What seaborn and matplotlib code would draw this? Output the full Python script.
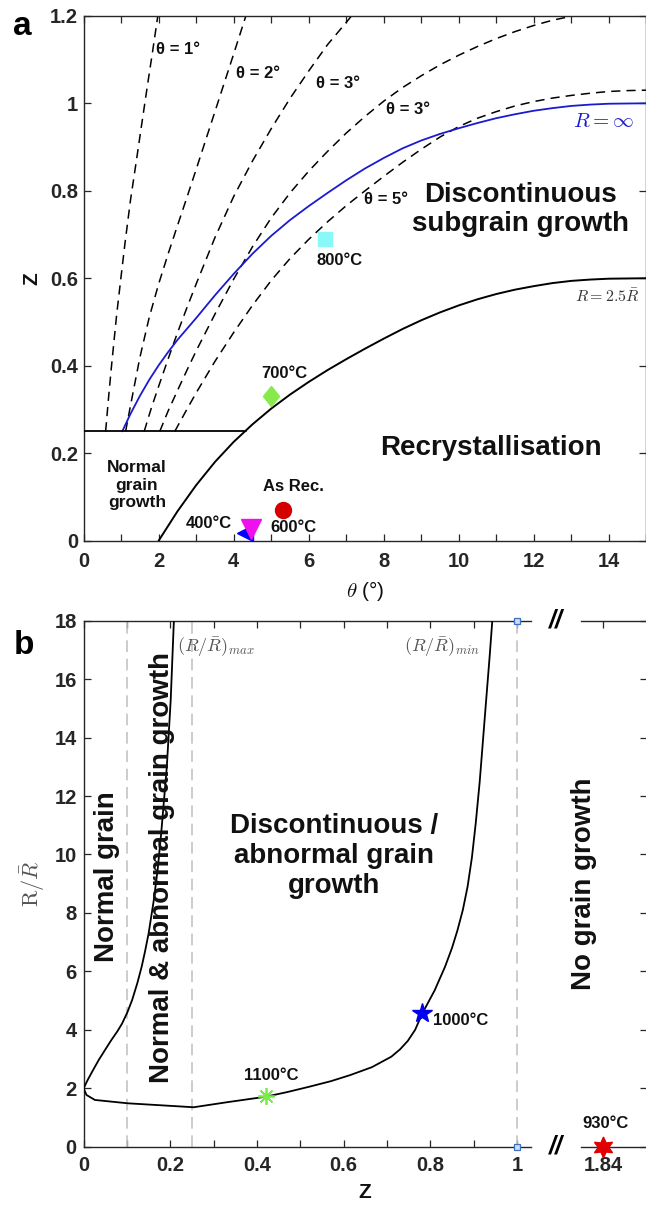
import matplotlib
matplotlib.use("Agg")
import matplotlib.pyplot as plt
import numpy as np
import seaborn as sns

# ================= DATA : panel a =================
# R = 2.5 Rbar boundary (solid black)
theta_r25 = [2.0, 2.5, 3.0, 3.5, 4.0, 4.5, 5.0, 5.5, 6.0, 6.5, 7.0, 7.5, 8.0, 8.5,
             9.0, 9.5, 10.0, 10.5, 11.0, 11.5, 12.0, 12.5, 13.0, 13.5, 14.0, 15.0]
z_r25 = [0.000, 0.067, 0.127, 0.180, 0.226, 0.266, 0.302, 0.334, 0.363, 0.390,
         0.415, 0.439, 0.462, 0.484, 0.504, 0.522, 0.538, 0.552, 0.564, 0.574,
         0.582, 0.589, 0.594, 0.597, 0.599, 0.600]

# R = infinity (blue)
theta_rinf = [1.03, 1.25, 1.5, 1.75, 2.0, 2.25, 2.5, 2.75, 3.0, 3.5, 4.0, 4.5,
              5.0, 5.5, 6.0, 6.5, 7.0, 7.5, 8.0, 8.5, 9.0, 9.5, 10.0, 10.5,
              11.0, 11.5, 12.0, 12.5, 13.0, 13.5, 14.0, 15.0]
z_rinf = [0.250, 0.290, 0.331, 0.368, 0.401, 0.431, 0.459, 0.484, 0.509, 0.561,
          0.610, 0.656, 0.697, 0.733, 0.765, 0.795, 0.824, 0.851, 0.875, 0.897,
          0.915, 0.930, 0.943, 0.955, 0.966, 0.975, 0.983, 0.989, 0.994, 0.997,
          0.999, 1.000]

# dashed iso-misorientation curves
theta_c1 = [0.587, 0.67, 0.75, 0.88, 1.0, 1.1, 1.25, 1.4, 1.55, 1.7, 1.85, 2.0]
z_c1 = [0.250, 0.332, 0.405, 0.516, 0.605, 0.678, 0.779, 0.865, 0.953, 1.040,
        1.125, 1.213]

theta_c2 = [1.12, 1.25, 1.5, 1.75, 2.0, 2.25, 2.5, 2.75, 3.0, 3.25, 3.5, 3.75,
            4.0, 4.25, 4.4]
z_c2 = [0.250, 0.309, 0.419, 0.511, 0.587, 0.655, 0.720, 0.784, 0.849, 0.915,
        0.981, 1.047, 1.113, 1.180, 1.220]

theta_c3 = [1.615, 1.8, 2.0, 2.25, 2.5, 2.75, 3.0, 3.5, 4.0, 4.5, 5.0, 5.5, 6.0,
            6.5, 7.0, 7.5]
z_c3 = [0.250, 0.302, 0.353, 0.415, 0.475, 0.532, 0.587, 0.693, 0.787, 0.868,
        0.942, 1.011, 1.074, 1.134, 1.185, 1.238]

theta_c4 = [2.03, 2.25, 2.5, 2.75, 3.0, 3.5, 4.0, 4.5, 5.0, 5.5, 6.0, 6.5, 7.0,
            7.5, 8.0, 8.5, 9.0, 9.5, 10.0, 10.5, 11.0, 11.5, 12.0, 12.5, 13.0,
            13.5, 14.0]
z_c4 = [0.250, 0.296, 0.343, 0.389, 0.434, 0.518, 0.598, 0.672, 0.738, 0.795,
        0.845, 0.890, 0.932, 0.970, 1.005, 1.036, 1.063, 1.088, 1.110, 1.130,
        1.148, 1.164, 1.178, 1.190, 1.199, 1.207, 1.213]

theta_c5 = [2.43, 2.75, 3.0, 3.5, 4.0, 4.5, 5.0, 5.5, 6.0, 6.5, 7.0, 7.5, 8.0,
            8.5, 9.0, 9.5, 10.0, 10.5, 11.0, 11.5, 12.0, 12.5, 13.0, 13.5, 14.0,
            14.5, 15.0]
z_c5 = [0.250, 0.300, 0.338, 0.410, 0.476, 0.538, 0.595, 0.645, 0.689, 0.729,
        0.766, 0.800, 0.833, 0.865, 0.895, 0.923, 0.947, 0.966, 0.981, 0.994,
        1.004, 1.012, 1.018, 1.023, 1.027, 1.029, 1.030]

curve_labels = ["θ = 1°", "θ = 2°", "θ = 3°", "θ = 3°", "θ = 5°"]

# normal-grain-growth boundary
theta_ngg = [0.0, 4.34]
z_ngg = [0.25, 0.25]

# experimental points (panel a)
pt_a_labels = ["400°C", "600°C", "As Rec.", "700°C", "800°C"]
pt_a_theta = [4.31, 4.47, 5.31, 5.0, 6.42]
pt_a_z = [0.018, 0.027, 0.070, 0.331, 0.690]

# ================= DATA : panel b =================
z_rmax = [0.0, 0.010, 0.021, 0.035, 0.049, 0.064, 0.078, 0.089, 0.101, 0.112,
          0.124, 0.134, 0.142, 0.150, 0.162, 0.171, 0.179, 0.192, 0.201, 0.2083]
r_rmax = [2.0, 2.3, 2.6, 2.97, 3.3, 3.65, 3.95, 4.22, 4.6, 5.02, 5.6, 6.16, 6.7,
          7.3, 8.44, 9.5, 10.72, 13.0, 15.29, 18.0]

z_rmin = [0.0, 0.0067, 0.026, 0.102, 0.254, 0.33, 0.42, 0.47, 0.52, 0.57, 0.615,
          0.665, 0.71, 0.73, 0.748, 0.765, 0.7815, 0.81, 0.834, 0.85, 0.8625,
          0.875, 0.886, 0.896, 0.905, 0.914, 0.922, 0.93, 0.937, 0.943]
r_rmin = [2.0, 1.77, 1.60, 1.485, 1.35, 1.52, 1.71, 1.87, 2.05, 2.24, 2.45,
          2.72, 3.08, 3.33, 3.62, 4.0, 4.56, 5.35, 6.16, 6.8, 7.4, 8.1, 8.9,
          9.9, 11.1, 12.5, 14.0, 15.5, 16.8, 18.0]

z_bounds = [0.1, 0.25, 1.0]
z_limit_pts = [1.0, 1.0]
r_limit_pts = [0.0, 18.0]

pt_b_labels = ["1100°C", "1000°C", "930°C"]
pt_b_z = [0.42, 0.7815, 1.84]
pt_b_r = [1.72, 4.56, 0.0]

# ================= STYLE =================
sns.set_theme(style="ticks")
plt.rcParams.update({
    "font.family": ["Liberation Sans", "DejaVu Sans"],
    "mathtext.fontset": "cm",
    "axes.edgecolor": "#262626",
    "axes.linewidth": 1.0,
    "xtick.color": "#262626",
    "ytick.color": "#262626",
    "xtick.direction": "in",
    "ytick.direction": "in",
    "xtick.major.size": 5,
    "ytick.major.size": 5,
    "xtick.major.width": 0.9,
    "ytick.major.width": 0.9,
    "xtick.labelsize": 14.5,
    "ytick.labelsize": 14.5,
})

W, H = 646, 1208
fig = plt.figure(figsize=(W / 100, H / 100), dpi=100)


def rect(x0, x1, y0, y1):
    return [x0 / W, 1 - y1 / H, (x1 - x0) / W, (y1 - y0) / H]


def fx(px):
    return px / W


def fy(py):
    return 1 - py / H


def curve(ax, x, y, color, lw, ls="-", z=2):
    sns.lineplot(x=np.asarray(x, float), y=np.asarray(y, float), ax=ax,
                 color=color, lw=lw, linestyle=ls, sort=False, estimator=None,
                 legend=False, zorder=z)


def bold_ticks(ax):
    for t in ax.get_xticklabels() + ax.get_yticklabels():
        t.set_fontweight("bold")


TXT = "#111111"

# ================= PANEL a =================
axA = fig.add_axes(rect(83.6, 646.5, 15.8, 540.7))
dash = (0, (6, 4))
for tx, tz in [(theta_c1, z_c1), (theta_c2, z_c2), (theta_c3, z_c3),
               (theta_c4, z_c4), (theta_c5, z_c5)]:
    curve(axA, tx, tz, "black", 1.1, dash, 2)
curve(axA, theta_rinf, z_rinf, "#1a1ad0", 1.3, "-", 3)
curve(axA, theta_r25, z_r25, "black", 1.4, "-", 3)
curve(axA, theta_ngg, z_ngg, "black", 1.3, "-", 3)

mk = dict(ls="none", zorder=5)
axA.plot(pt_a_theta[0], pt_a_z[0], marker="<", ms=12, color="#0000ff", mec="#0000ff", **mk)
axA.plot(pt_a_theta[1], pt_a_z[1], marker="v", ms=14, color="#ee11ee", mec="#ee11ee", **mk)
axA.plot(pt_a_theta[2], pt_a_z[2], marker="o", ms=11.5, color="#d40000", mec="#d40000", **mk)
diamond = [(0, 1), (0.8, 0), (0, -1), (-0.8, 0), (0, 1)]
axA.plot(pt_a_theta[3], pt_a_z[3], marker=diamond, ms=14.5, color="#88ea4a", mec="#88ea4a", **mk)
axA.plot(pt_a_theta[4], pt_a_z[4], marker="s", ms=9.6, color="#88f8f8", mec="#88f8f8", **mk)

axA.set_xlim(0, 15)
axA.set_ylim(0, 1.2)
axA.set_xticks(range(0, 16))
axA.set_xticklabels([str(v) if v % 2 == 0 else "" for v in range(0, 16)])
axA.set_yticks([0, 0.2, 0.4, 0.6, 0.8, 1.0, 1.2])
axA.set_yticklabels(["0", "0.2", "0.4", "0.6", "0.8", "1", "1.2"])
axA.tick_params(top=True, right=True)
axA.tick_params(axis="x", pad=8)
axA.tick_params(axis="y", pad=4)
bold_ticks(axA)

lab = dict(fontsize=12, fontweight="bold", color=TXT, va="center")
axA.text(1.93, 1.123, curve_labels[0], ha="left", **lab)
axA.text(4.07, 1.069, curve_labels[1], ha="left", **lab)
axA.text(6.2, 1.046, curve_labels[2], ha="left", **lab)
axA.text(8.06, 0.985, curve_labels[3], ha="left", **lab)
axA.text(7.48, 0.779, curve_labels[4], ha="left", **lab)

axA.text(11.65, 0.758, "Discontinuous\nsubgrain growth", ha="center", va="center",
         fontsize=20, fontweight="bold", color=TXT, linespacing=1.15)
axA.text(10.86, 0.211, "Recrystallisation", ha="center", va="center",
         fontsize=20, fontweight="bold", color=TXT)
axA.text(1.42, 0.127, "Normal\ngrain\ngrowth", ha="center", va="center",
         fontsize=12.5, fontweight="bold", color=TXT, linespacing=1.2)
axA.text(13.85, 0.958, r"$R = \infty$", ha="center", va="center",
         fontsize=15, color="#1a1ad0")
axA.text(13.95, 0.559, r"$R = 2.5\bar{R}$", ha="center", va="center",
         fontsize=11.5, color="#333333")

tl = dict(fontsize=12, fontweight="bold", color=TXT, ha="center", va="center", zorder=6)
axA.text(3.34, 0.040, pt_a_labels[0], **tl)
axA.text(5.60, 0.031, pt_a_labels[1], **tl)
axA.text(5.58, 0.1235, pt_a_labels[2], **tl)
axA.text(5.36, 0.383, pt_a_labels[3], **tl)
axA.text(6.83, 0.640, pt_a_labels[4], **tl)

fig.text(fx(365.6), fy(590.7), r"$\theta$ (°)", ha="center", va="center",
         fontsize=15, color=TXT)
fig.text(fx(32), fy(278.5), "Z", ha="center", va="center", rotation=90,
         fontsize=15, fontweight="bold", color=TXT)
fig.text(fx(22.7), fy(26.7), "a", ha="center", va="center", fontsize=24,
         fontweight="bold", color="black")

# ================= PANEL b =================
scale_b = 433.4
axB1 = fig.add_axes(rect(83.6, 531.5, 620.7, 1146.7))
axB2 = fig.add_axes(rect(581, 646.5, 620.7, 1146.7))

vdash = (0, (7, 4))
for zb in z_bounds:
    axB1.axvline(zb, color="#c4c4c4", lw=1.2, linestyle=vdash, zorder=1)
curve(axB1, z_rmax, r_rmax, "black", 1.3, "-", 3)
curve(axB1, z_rmin, r_rmin, "black", 1.3, "-", 3)
axB1.plot(z_limit_pts, r_limit_pts, ls="none", marker="s", ms=4.2,
          mfc="#c9dcf2", mec="#3f6fc0", mew=0.9, zorder=6, clip_on=False)

axB1.plot(pt_b_z[0], pt_b_r[0], ls="none", marker=(8, 2, 0), ms=12,
          mec="#77ee44", mew=1.3, zorder=5)
axB1.plot(pt_b_z[1], pt_b_r[1], ls="none", marker="*", ms=15,
          color="#0000ee", mec="#0000ee", zorder=5)
axB2.plot(pt_b_z[2], pt_b_r[2], ls="none", marker=(6, 1, 0), ms=15,
          color="#e00000", mec="#e00000", zorder=5, clip_on=False)

axB1.set_xlim(0, (531.5 - 83.6) / scale_b)
axB1.set_ylim(0, 18)
axB1.set_xticks(np.round(np.arange(0, 1.01, 0.1), 1))
axB1.set_xticklabels(["0", "", "0.2", "", "0.4", "", "0.6", "", "0.8", "", "1"])
axB1.set_yticks(range(0, 19, 2))
axB1.set_yticklabels([str(v) for v in range(0, 19, 2)])
axB1.spines["right"].set_visible(False)
axB1.tick_params(top=True, right=False)
axB1.tick_params(axis="x", pad=7)
axB1.tick_params(axis="y", pad=5)
bold_ticks(axB1)

axB2.set_xlim(1.84 - 22.3 / scale_b, 1.84 + 43.2 / scale_b)
axB2.set_ylim(0, 18)
axB2.set_xticks([1.84])
axB2.set_xticklabels(["1.84"])
axB2.set_yticks(range(0, 19, 2))
axB2.set_yticklabels([])
axB2.spines["left"].set_visible(False)
axB2.tick_params(top=True, left=False, right=True)
axB2.tick_params(axis="x", pad=7)
bold_ticks(axB2)

axB1.text(0.216, 17.1, r"$(R/\bar{R})_{max}$", ha="left", va="center",
          fontsize=13, color="#555555")
axB1.text(0.915, 17.1, r"$(R/\bar{R})_{min}$", ha="right", va="center",
          fontsize=13, color="#555555")
axB1.text(0.577, 9.95, "Discontinuous /\nabnormal grain\ngrowth", ha="center",
          va="center", fontsize=20, fontweight="bold", color=TXT, linespacing=1.2)
axB1.text(0.054, 9.25, "Normal grain", ha="center", va="center", rotation=90,
          fontsize=20, fontweight="bold", color=TXT)
axB1.text(0.18, 9.55, "Normal & abnormal grain growth", ha="center", va="center",
          rotation=90, fontsize=20, fontweight="bold", color=TXT)
fig.text(fx(584), fy(884), "No grain growth", ha="center", va="center",
         rotation=90, fontsize=20, fontweight="bold", color=TXT)

axB1.text(0.432, 2.45, pt_b_labels[0], **tl)
axB1.text(0.8697, 4.33, pt_b_labels[1], **tl)
axB2.text(1.8458, 0.8, pt_b_labels[2], **tl)

for yy in (620.7, 1146.7):
    fig.text(fx(556), fy(yy), "//", ha="center", va="center", fontsize=18,
             fontweight="bold", fontstyle="italic", color="black")

fig.text(fx(364.8), fy(1193), "Z", ha="center", va="center", fontsize=15,
         fontweight="bold", color=TXT)
fig.text(fx(33), fy(883.7), r"$\mathrm{R}/\bar{R}$", ha="center", va="center",
         rotation=90, fontsize=16, color="#555555")
fig.text(fx(23.7), fy(645.8), "b", ha="center", va="center", fontsize=24,
         fontweight="bold", color="black")

fig.savefig("out.png", dpi=100)
